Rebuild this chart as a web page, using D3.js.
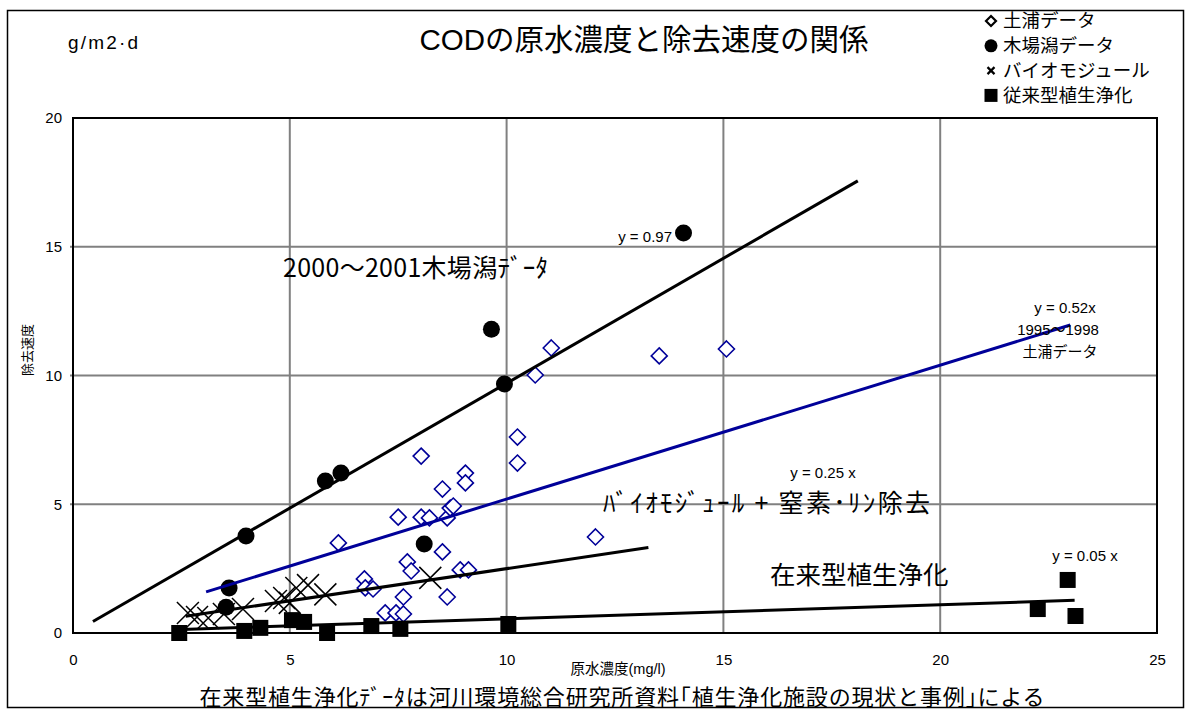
<!DOCTYPE html>
<html>
<head>
<meta charset="utf-8">
<script src="https://cdn.jsdelivr.net/npm/d3@7"></script>
<style>
  body { margin: 0; background: #fff; }
  svg { display: block; }
</style>
</head>
<body>
<svg id="chart"></svg>
<script>
// Data: [原水濃度 mg/l, 除去速度 g/m2・d]
let tsuchiura = [[6.12,3.50],[6.72,2.10],[6.74,1.75],[6.92,1.71],[7.20,0.78],[7.45,0.78],[7.62,0.74],
  [7.50,4.50],[7.62,1.40],[7.71,2.76],[7.80,2.41],[8.03,6.87],[8.03,4.50],[8.22,4.47],[8.52,5.59],
  [8.52,3.15],[8.63,4.47],[8.63,1.40],[8.70,4.85],[8.77,4.93],[8.93,2.45],[9.05,6.21],[9.05,5.83],
  [9.12,2.45],[10.25,7.61],[10.25,6.60],[10.66,10.02],[11.03,11.07],[12.05,3.73],[13.52,10.76],[15.07,11.03]];
let kibagata = [[3.53,1.00],[3.60,1.75],[3.99,3.77],[5.82,5.90],[6.18,6.21],[8.10,3.46],[9.65,11.80],[9.95,9.67],[14.08,15.53]];
let biomodule = [[2.65,0.78],[2.86,0.62],[3.12,0.58],[3.48,0.74],[3.92,0.93],[4.68,1.24],[4.87,1.36],
  [5.00,1.17],[5.15,1.75],[5.42,1.86],[5.82,1.50],[8.24,2.14]];
let conventional = [[2.45,0.00],[3.95,0.08],[4.32,0.20],[5.05,0.50],[5.33,0.43],[5.86,0.00],[6.88,0.27],
  [7.55,0.16],[10.04,0.35],[22.25,0.93],[22.94,2.06],[23.12,0.66]];

// trend lines y = a x, drawn between xFrom and xTo
let trendNames = ["kibagata", "tsuchiura", "biomodule", "conventional"];
let trendSlopes = [0.97, 0.52, 0.25, 0.055];
let trendFrom = [0.46, 3.07, 2.6, 2.5];
let trendTo = [18.1, 23.0, 13.27, 23.1];

let xTicks = [0, 5, 10, 15, 20, 25];
let yTicks = [0, 5, 10, 15, 20];

let legendLabels = ["土浦データ", "木場潟データ", "バイオモジュール", "従来型植生浄化"];

let width = 1191, height = 715;
let navy = "#000099";
let font = "'Liberation Sans', Arial, 'Noto Sans CJK JP', sans-serif";
let jfont = "'Noto Sans CJK JP', 'Liberation Sans', sans-serif";

let svg = d3.select("#chart")
  .attr("width", width)
  .attr("height", height)
  .style("font-family", font);

let x = d3.scaleLinear().domain([0, 25]).range([73, 1157]);
let y = d3.scaleLinear().domain([0, 20]).range([633, 118]);

// outer frame
svg.append("rect")
  .attr("x", 7.5).attr("y", 10.5)
  .attr("width", 1176).attr("height", 697)
  .attr("fill", "none").attr("stroke", "black").attr("stroke-width", 1.5);

// grid
svg.append("g")
  .selectAll("line")
  .data(xTicks.slice(1, -1))
  .join("line")
    .attr("x1", d => x(d)).attr("x2", d => x(d))
    .attr("y1", y(20)).attr("y2", y(0))
    .attr("stroke", "#808080").attr("stroke-width", 2);
svg.append("g")
  .selectAll("line")
  .data(yTicks.slice(1, -1))
  .join("line")
    .attr("x1", x(0) - 3).attr("x2", x(25))
    .attr("y1", d => y(d)).attr("y2", d => y(d))
    .attr("stroke", "#808080").attr("stroke-width", 2);

// plot border
svg.append("rect")
  .attr("x", x(0)).attr("y", y(20))
  .attr("width", x(25) - x(0)).attr("height", y(0) - y(20))
  .attr("fill", "none").attr("stroke", "black").attr("stroke-width", 2);

// axes
let xAxis = svg.append("g")
  .attr("transform", `translate(0, ${y(0)})`)
  .call(d3.axisBottom(x).tickValues(xTicks).tickSize(0).tickPadding(21));
let yAxis = svg.append("g")
  .attr("transform", `translate(${x(0)}, 0)`)
  .call(d3.axisLeft(y).tickValues(yTicks).tickSize(0).tickPadding(11));
[xAxis, yAxis].forEach(g => {
  g.select(".domain").remove();
  g.selectAll("text").attr("font-size", 15).attr("font-family", font).attr("fill", "black");
});

// markers
let diamond = s => `M0,${-s}L${s},0L0,${s}L${-s},0Z`;

svg.append("g")
  .selectAll("path")
  .data(tsuchiura)
  .join("path")
    .attr("d", diamond(8))
    .attr("transform", d => `translate(${x(d[0])}, ${y(d[1])})`)
    .attr("fill", "white")
    .attr("stroke", navy)
    .attr("stroke-width", 1.6);

svg.append("g")
  .selectAll("g")
  .data(biomodule)
  .join("path")
    .attr("d", "M-11,-11L11,11M-11,11L11,-11")
    .attr("transform", d => `translate(${x(d[0])}, ${y(d[1])})`)
    .attr("stroke", "black")
    .attr("stroke-width", 1.5)
    .attr("fill", "none");

svg.append("g")
  .selectAll("circle")
  .data(kibagata)
  .join("circle")
    .attr("cx", d => x(d[0]))
    .attr("cy", d => y(d[1]))
    .attr("r", 8.5)
    .attr("fill", "black");

svg.append("g")
  .selectAll("rect")
  .data(conventional)
  .join("rect")
    .attr("x", d => x(d[0]) - 8)
    .attr("y", d => y(d[1]) - 8)
    .attr("width", 16).attr("height", 16)
    .attr("fill", "black");

// trend lines
svg.append("g")
  .selectAll("line")
  .data(trendNames)
  .join("line")
    .attr("x1", (d, i) => x(trendFrom[i]))
    .attr("y1", (d, i) => y(trendSlopes[i] * trendFrom[i]))
    .attr("x2", (d, i) => x(trendTo[i]))
    .attr("y2", (d, i) => y(trendSlopes[i] * trendTo[i]))
    .attr("stroke", d => d == "tsuchiura" ? navy : "black")
    .attr("stroke-width", 3);

// texts
function label(txt, px, py, size, anchor, fam) {
  return svg.append("text")
    .attr("x", px).attr("y", py)
    .attr("dy", "0.35em")
    .attr("text-anchor", anchor || "middle")
    .attr("font-size", size)
    .attr("font-family", fam || font)
    .attr("fill", "black")
    .text(txt);
}

label("g/m2·d", 68, 42, 19, "start").attr("letter-spacing", 2.2);
label("CODの原水濃度と除去速度の関係", 644, 40, 29.5, "middle");
label("原水濃度(mg/l)", 618, 669, 14.5, "middle");
svg.append("text")
  .attr("transform", "translate(27, 350) rotate(-90)")
  .attr("text-anchor", "middle")
  .attr("dy", "0.35em")
  .attr("font-size", 13)
  .attr("font-family", jfont)
  .text("除去速度");

label("y = 0.97", 672, 237, 15, "end");
label("2000～2001木場潟ﾃﾞｰﾀ", 283, 268, 25, "start", jfont).attr("textLength", 265).attr("lengthAdjust", "spacing");
label("y = 0.52x", 1065, 308, 15, "middle");
label("1995～1998", 1058, 330, 15, "middle");
label("土浦データ", 1060, 352, 15, "middle", jfont);
label("y = 0.25 x", 823, 473, 15, "middle");
label("ﾊﾞｲｵﾓｼﾞｭｰﾙ + 窒素･ﾘﾝ除去", 603, 503, 25, "start", jfont).attr("textLength", 327).attr("lengthAdjust", "spacing");
label("y = 0.05 x", 1085, 556, 15, "middle");
label("在来型植生浄化", 770, 575, 25.5, "start", jfont);
label("在来型植生浄化ﾃﾞｰﾀは河川環境総合研究所資料｢植生浄化施設の現状と事例｣による", 622, 697, 22, "middle", jfont)
  .attr("textLength", 845).attr("lengthAdjust", "spacing");

// legend
let legend = svg.append("g").attr("transform", "translate(991, 21)");
let rows = legend.selectAll("g")
  .data(legendLabels)
  .join("g")
    .attr("transform", (d, i) => `translate(0, ${i * 24.8})`);
rows.append("text")
  .attr("x", 12)
  .attr("dy", "0.35em")
  .attr("font-size", 18.5)
  .attr("font-family", jfont)
  .text(d => d);
rows.filter((d, i) => i == 0).append("path")
  .attr("d", diamond(5)).attr("fill", "white").attr("stroke", "black").attr("stroke-width", 2.2);
rows.filter((d, i) => i == 1).append("circle")
  .attr("r", 6.5).attr("fill", "black");
rows.filter((d, i) => i == 2).append("path")
  .attr("d", "M-3.5,-3.5L3.5,3.5M-3.5,3.5L3.5,-3.5").attr("stroke", "black").attr("stroke-width", 2.2);
rows.filter((d, i) => i == 3).append("rect")
  .attr("x", -6.5).attr("y", -6.5).attr("width", 13).attr("height", 13).attr("fill", "black");
</script>
</body>
</html>
